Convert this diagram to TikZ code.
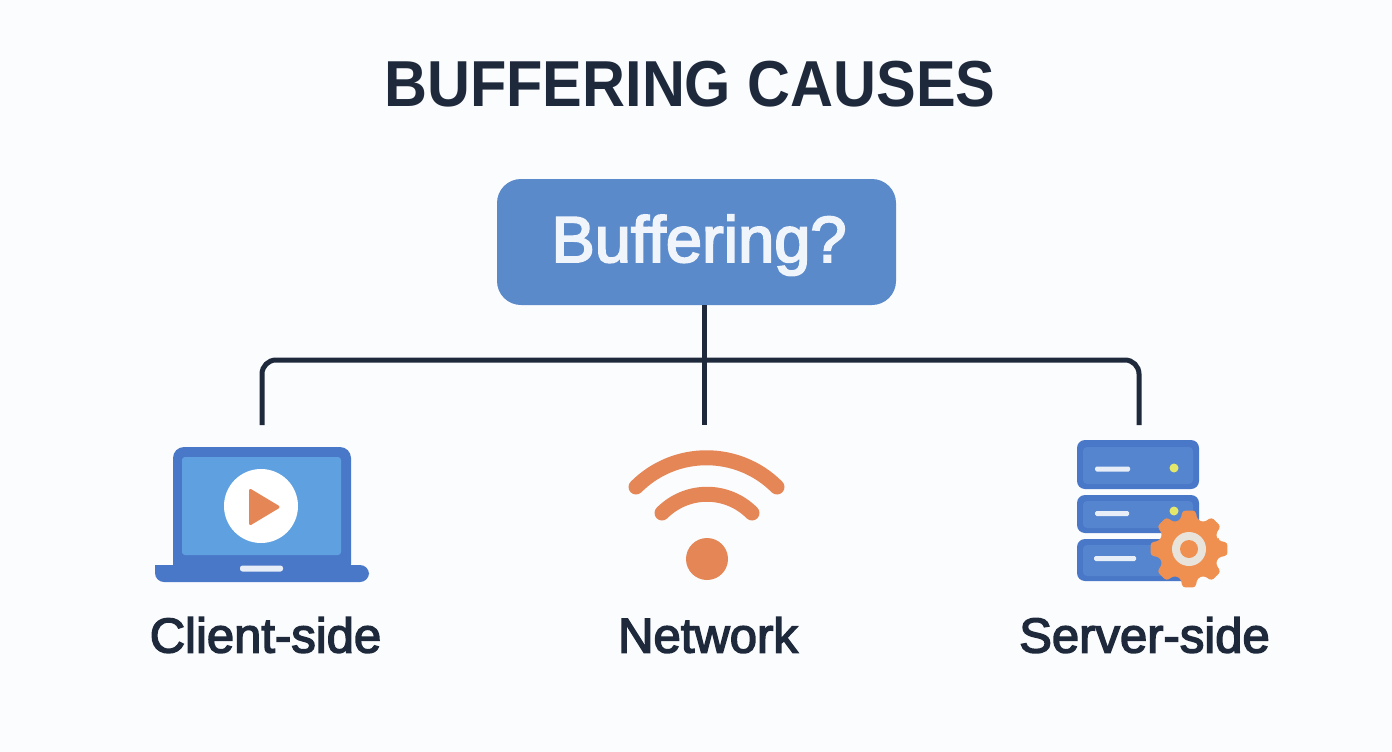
\documentclass[tikz,border=0pt]{standalone}
\usepackage{fontspec}
\setmainfont{Liberation Sans}
\newfontfamily\medfont[FakeBold=3,Ligatures=NoCommon]{Liberation Sans}
\newfontfamily\headfont[FakeStretch=0.915]{Liberation Sans Bold}
\definecolor{bg}{HTML}{FBFCFE}
\definecolor{ink}{HTML}{1E2A3C}
\definecolor{boxblue}{HTML}{5B8ACB}
\definecolor{boxtext}{HTML}{F0F5FB}
\definecolor{iconblue}{HTML}{4A78C8}
\definecolor{screenblue}{HTML}{5FA0E0}
\definecolor{rowblue}{HTML}{5585CF}
\definecolor{wifiorange}{HTML}{E48655}
\definecolor{gearorange}{HTML}{F09050}
\definecolor{ledyellow}{HTML}{E4E86A}
\definecolor{slotwhite}{HTML}{E8EEF8}
\definecolor{hubgrey}{HTML}{E8E4DC}
\tikzset{
  wire/.style={draw=ink,line width=5pt},
  rootbox/.style={draw=none,fill=boxblue,rounded corners=24pt,minimum width=399pt,minimum height=126pt,inner sep=0pt,text=boxtext,font=\medfont\fontsize{65}{70}\selectfont},
  caption/.style={text=ink,inner sep=0pt,font=\medfont\fontsize{49}{54}\selectfont},
  heading/.style={text=ink,inner sep=0pt,font=\headfont\fontsize{65}{70}\selectfont},
  arcstroke/.style={draw=wifiorange,line width=15pt,line cap=round},
  rack/.style={fill=iconblue,rounded corners=8pt},
  rackface/.style={fill=rowblue,rounded corners=4pt},
  slot/.style={fill=slotwhite,rounded corners=1.5pt},
  led/.style={fill=ledyellow},
}
\begin{document}
\begin{tikzpicture}[x=1pt,y=-1pt]
\fill[bg] (0,0) rectangle (1392,752);
\useasboundingbox (0,0) rectangle (1392,752);
\node[heading] (title) at (690,84) {BUFFERING CAUSES};
\node[rootbox] (root) at (696.5,242) {\hspace*{5pt}\raisebox{-10pt}[30pt][10pt]{Buffering?}};
\coordinate (hub) at (704,360);
\coordinate (leftEnd) at (262,425);
\coordinate (midEnd) at (704,425);
\coordinate (rightEnd) at (1139,425);
\draw[wire] (root.south -| hub) -- (midEnd);
\draw[wire,rounded corners=14pt] (leftEnd) |- (hub) -| (rightEnd);
% laptop
\fill[iconblue,rounded corners=11pt] (173,575) -- (173,447) -- (351,447) -- (351,575) -- cycle;
\fill[screenblue,rounded corners=3pt] (182,457) rectangle (341,555);
\fill[white] (261,506) circle (37);
\fill[wifiorange,draw=wifiorange,line width=3pt,line join=round] (250.5,490.5) -- (278,507) -- (250.5,523.5) -- cycle;
\fill[iconblue,rounded corners=9pt] (155,565) -- (155,582) -- (369,582) -- (369,565) [sharp corners] -- cycle;
\fill[slotwhite,rounded corners=2.5pt] (240,565.5) rectangle (283,571.5);
% wifi
\draw[arcstroke] (636,487) .. controls (675,448) and (738,448) .. (777,487);
\draw[arcstroke] (662,513) .. controls (687,488) and (727,488) .. (752,513);
\fill[wifiorange] (707,559) circle (21);
% server
\fill[rack] (1077,440) rectangle (1199,489);
\fill[rackface] (1083,447) rectangle (1193,484);
\fill[rack] (1077,495) rectangle (1199,533);
\fill[rackface] (1083,501) rectangle (1193,528);
\fill[rack] (1077,539) rectangle (1199,581);
\fill[rackface] (1083,545) rectangle (1193,576);
\fill[slot] (1095,466.5) rectangle (1130,471.5);
\fill[slot] (1095,511) rectangle (1129,516);
\fill[slot] (1094,556) rectangle (1136,561);
\fill[led] (1174,468) circle (4.5);
\fill[led] (1174,511) circle (4.5);
% gear
\begin{scope}[shift={(1189,549)}]
\fill[gearorange,rounded corners=3pt] (-16:30.5)
  \foreach \a in {0,45,...,315} {
    -- (\a-9.5:39) -- (\a+9.5:39) -- (\a+16:30.5) -- (\a+29:30.5)
  } -- cycle;
\fill[hubgrey] (0,0) circle (17);
\fill[gearorange] (0,0) circle (9);
\end{scope}
% captions
\node[caption] (client) at (265.5,635) {Client-side};
\node[caption] (network) at (708,635) {Network};
\node[caption] (server) at (1144.5,635) {Server-side};
\end{tikzpicture}
\end{document}
